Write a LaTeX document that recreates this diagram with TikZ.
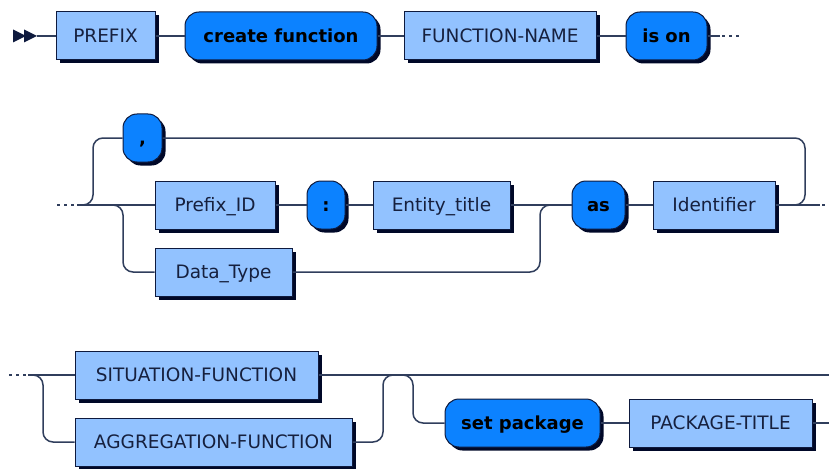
\documentclass[tikz,border=0pt]{standalone}
\usepackage{fontspec}
\setmainfont{DejaVu Sans}
\usetikzlibrary{shadows}

\definecolor{ntfill}{RGB}{146,194,255}
\definecolor{tfill}{RGB}{12,130,255}
\definecolor{edgec}{RGB}{14,26,62}
\definecolor{shade}{RGB}{0,8,40}
\definecolor{track}{RGB}{48,62,92}
\definecolor{ntext}{RGB}{22,32,62}

\tikzset{
  rail/.style={draw=track, line width=1.5pt, rounded corners=10pt},
  railbox/.style={draw=edgec, line width=1pt, minimum height=48pt, inner sep=0pt,
    text height=13.5pt, text depth=0pt,
    drop shadow={shadow xshift=3.5pt, shadow yshift=-3.5pt, fill=shade, opacity=1}},
  nonterm/.style={railbox, fill=ntfill, text=ntext, font=\fontsize{18.5}{22}\selectfont},
  term/.style={railbox, fill=tfill, text=black, rounded corners=14pt,
    font=\fontsize{18}{22}\selectfont\bfseries},
  dots/.style={draw=track, line width=1.5pt, dash pattern=on 3pt off 4pt},
}

\begin{document}
\begin{tikzpicture}[x=1pt, y=-1pt]
\useasboundingbox (0,0) rectangle (829,468);

% ---------- first line ----------
\fill[edgec] (13,29.5) -- (26,36) -- (13,42.5) -- cycle;
\fill[edgec] (24,29.5) -- (37,36) -- (24,42.5) -- cycle;
\coordinate (start) at (37,36);

\node[nonterm, minimum width=99pt]  (prefix) at (105.5,36) {PREFIX};
\node[term,    minimum width=192pt] (create) at (281,36)   {create function};
\node[nonterm, minimum width=192pt] (fname)  at (500,36)   {FUNCTION-NAME};
\node[term,    minimum width=81pt]  (ison)   at (666.5,36) {is on};
\coordinate (end1) at (720,36);

\draw[rail] (start) -- (prefix.west);
\draw[rail] (prefix.east) -- (create.west);
\draw[rail] (create.east) -- (fname.west);
\draw[rail] (fname.east) -- (ison.west);
\draw[rail] (ison.east) -- (end1);
\draw[dots] (722,36) -- (742,36);

% ---------- second line ----------
\node[term,    minimum width=39pt]  (comma)    at (142.5,138) {,};
\node[nonterm, minimum width=120pt] (prefixid) at (215,205)   {Prefix\_ID};
\node[term,    minimum width=38pt]  (colon)    at (326,205)   {:};
\node[nonterm, minimum width=137pt] (entity)   at (441.5,205) {Entity\_title};
\node[term,    minimum width=53pt]  (as)       at (598.5,205) {as};
\node[nonterm, minimum width=122pt] (ident)    at (714,205)   {Identifier};
\node[nonterm, minimum width=137pt] (datatype) at (223.5,272) {Data\_Type};
\coordinate (in2) at (77,205);
\coordinate (end2) at (820,205);

\draw[dots] (57,205) -- (in2);
\draw[rail] (in2) -- (prefixid.west);
\draw[rail] (prefixid.east) -- (colon.west);
\draw[rail] (colon.east) -- (entity.west);
\draw[rail] (entity.east) -- (as.west);
\draw[rail] (as.east) -- (ident.west);
\draw[rail] (ident.east) -- (end2);
\draw[dots] (822,205) -- (829,205);
% repetition loop through the comma
\draw[rail] (81,205) -- (93,205) -- (93,138) -- (comma.west);
\draw[rail] (comma.east) -- (805,138) -- (805,205) -- (793,205);
% alternative Data_Type
\draw[rail] (111,205) -- (123,205) -- (123,272) -- (datatype.west);
\draw[rail] (datatype.east) -- (540,272) -- (540,205) -- (552,205);

% ---------- third line ----------
\node[nonterm, minimum width=243pt] (situation)   at (196.5,375) {SITUATION-FUNCTION};
\node[nonterm, minimum width=277pt] (aggregation) at (213.5,442) {AGGREGATION-FUNCTION};
\node[term,    minimum width=155pt] (setpkg)      at (522.5,423) {set package};
\node[nonterm, minimum width=183pt] (pkgtitle)    at (720.5,423) {PACKAGE-TITLE};
\coordinate (in3) at (28,375);
\coordinate (end3a) at (829,375);
\coordinate (end3b) at (829,423);

\draw[dots] (9,375) -- (in3);
\draw[rail] (in3) -- (situation.west);
\draw[rail] (situation.east) -- (end3a);
\draw[rail] (30,375) -- (43,375) -- (43,442) -- (aggregation.west);
\draw[rail] (aggregation.east) -- (383,442) -- (383,375) -- (395,375);
\draw[rail] (401,375) -- (413,375) -- (413,423) -- (setpkg.west);
\draw[rail] (setpkg.east) -- (pkgtitle.west);
\draw[rail] (pkgtitle.east) -- (end3b);
\end{tikzpicture}
\end{document}
